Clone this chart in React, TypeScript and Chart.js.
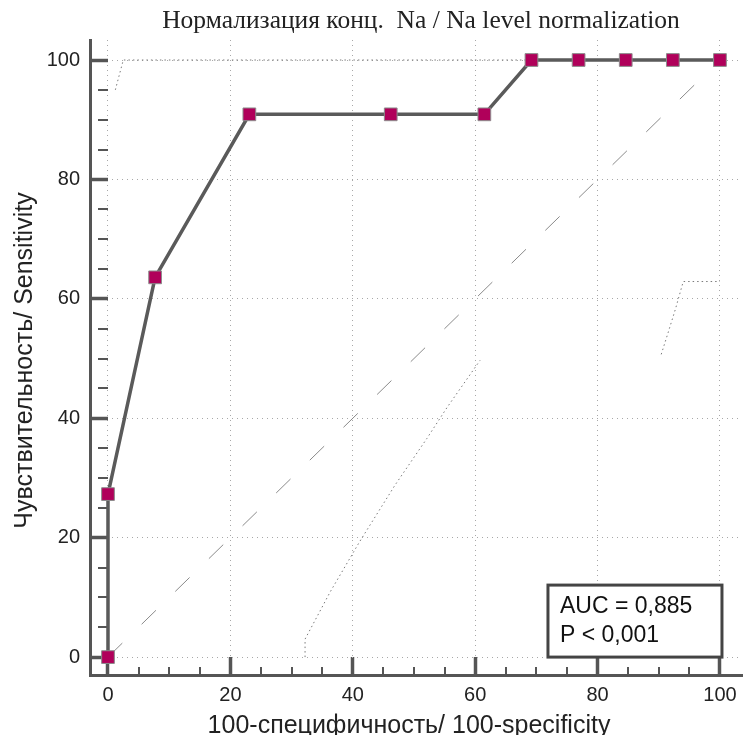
import React, { useEffect, useRef } from 'react';
import { Chart, registerables } from 'chart.js';

Chart.register(...registerables);

const TITLE = 'Нормализация конц.  Na / Na level normalization';
const X_TITLE = '100-специфичность/ 100-specificity';
const Y_TITLE = 'Чувствительность/ Sensitivity';
const AUC_LINES = ['AUC = 0,885', 'P < 0,001'];

const ROC_X = [0, 0, 7.7, 23.1, 46.2, 61.5, 69.2, 76.9, 84.6, 92.3, 100];
const ROC_Y = [0, 27.3, 63.6, 90.9, 90.9, 90.9, 100, 100, 100, 100, 100];

const DIAG_X = [0, 100];
const DIAG_Y = [0, 100];

const UPPER_X = [1.2, 2.5, 100];
const UPPER_Y = [95, 100, 100];

const LOWER_A_X = [32.2, 32.2, 36.3, 41.1, 46.9, 52.1, 55.4, 60.8];
const LOWER_A_Y = [0, 3, 10.9, 19.3, 28.8, 36.6, 41.8, 49.7];

const LOWER_B_X = [90.4, 91.3, 92.7, 94, 100];
const LOWER_B_Y = [50.7, 53.6, 58.2, 62.9, 62.9];

const MAJOR_TICKS = [0, 20, 40, 60, 80, 100];
const MINOR_TICKS = [5, 10, 15, 25, 30, 35, 45, 50, 55, 65, 70, 75, 85, 90, 95];

const X_MIN = -2.94;
const X_MAX = 103.6;
const Y_MIN = -3;
const Y_MAX = 103.35;

const zip = (xs: number[], ys: number[]) => xs.map((x, i) => ({ x, y: ys[i] }));
const isMajor = (ctx: any) => !!(ctx && ctx.tick && MAJOR_TICKS.includes(ctx.tick.value));

function axis(isX: boolean, min: number, max: number, padding: number, size: number) {
  return {
    type: 'linear',
    position: isX ? 'bottom' : 'left',
    min,
    max,
    afterBuildTicks: (scale: any) => {
      scale.ticks = [...MAJOR_TICKS, ...MINOR_TICKS].sort((a, b) => a - b).map((v) => ({ value: v }));
    },
    afterFit: (scale: any) => {
      if (isX) scale.height = size;
      else scale.width = size;
      scale.paddingLeft = 0;
      scale.paddingRight = 0;
      scale.paddingTop = 0;
      scale.paddingBottom = 0;
    },
    ticks: {
      autoSkip: false,
      maxRotation: 0,
      minRotation: 0,
      includeBounds: false,
      padding,
      color: '#222',
      font: { family: '"Liberation Sans", Arial, sans-serif', size: 20 },
      callback: (v: any) => (MAJOR_TICKS.includes(Number(v)) ? String(v) : ''),
    },
    grid: {
      display: true,
      drawOnChartArea: true,
      drawTicks: true,
      color: (ctx: any) => (isMajor(ctx) ? '#a8a8a8' : 'rgba(0,0,0,0)'),
      lineWidth: (ctx: any) => (isMajor(ctx) ? 1 : 0),
      borderDash: [1, 4],
      tickLength: -18,
      tickColor: '#555555',
      tickWidth: (ctx: any) => (isMajor(ctx) ? 3.5 : 2),
      tickBorderDash: (ctx: any) => (isMajor(ctx) ? [] : [10, 200]),
    },
    border: {
      display: true,
      color: '#555555',
      width: 3,
      dash: [1, 4],
    },
  };
}

const decor = {
  id: 'decor',
  afterDatasetsDraw(chart: any) {
    const { ctx, scales } = chart;
    const right = scales.x.getPixelForValue(100) + 2;
    const bottom = scales.y.getPixelForValue(0);
    const w = 174;
    const h = 72;
    ctx.save();
    ctx.fillStyle = '#ffffff';
    ctx.fillRect(right - w, bottom - h, w, h);
    ctx.lineWidth = 3;
    ctx.strokeStyle = '#444444';
    ctx.strokeRect(right - w, bottom - h, w, h);
    ctx.fillStyle = '#111111';
    ctx.font = '23px "Liberation Sans", Arial, sans-serif';
    ctx.textAlign = 'left';
    ctx.textBaseline = 'alphabetic';
    ctx.fillText(AUC_LINES[0], right - w + 12, bottom - 44);
    ctx.fillText(AUC_LINES[1], right - w + 12, bottom - 15);
    ctx.restore();
  },
  afterDraw(chart: any) {
    const { ctx, chartArea } = chart;
    const cx = (chartArea.left + chartArea.right) / 2;
    const cy = (chartArea.top + chartArea.bottom) / 2;
    ctx.save();
    ctx.fillStyle = '#222222';
    ctx.textAlign = 'center';
    ctx.textBaseline = 'alphabetic';
    ctx.font = '25.5px "Liberation Serif", "Times New Roman", serif';
    ctx.fillText(TITLE, cx + 5, 28);
    ctx.font = '25px "Liberation Sans", Arial, sans-serif';
    ctx.fillText(X_TITLE, cx - 7, 733);
    ctx.translate(32, cy + 3);
    ctx.rotate(-Math.PI / 2);
    ctx.fillText(Y_TITLE, 0, 0);
    ctx.restore();
  },
};

export default function App() {
  const ref = useRef<HTMLCanvasElement | null>(null);
  useEffect(() => {
    document.body.style.margin = '0';
    const canvas = ref.current;
    if (!canvas) return;
    const chart = new Chart(canvas, {
      type: 'scatter',
      data: {
        datasets: [
          {
            label: 'ROC',
            data: zip(ROC_X, ROC_Y),
            showLine: true,
            borderColor: '#5a5a5a',
            borderWidth: 3.5,
            pointStyle: 'rect',
            pointRadius: 9,
            pointHoverRadius: 9,
            pointBackgroundColor: '#b0005a',
            pointBorderColor: '#8c8c8c',
            pointBorderWidth: 1,
            clip: false,
          },
          {
            label: 'diag',
            data: zip(DIAG_X, DIAG_Y),
            showLine: true,
            borderColor: '#8a8a8a',
            borderWidth: 1,
            borderDash: [20, 27],
            pointRadius: 0,
          },
          {
            label: 'upper',
            data: zip(UPPER_X, UPPER_Y),
            showLine: true,
            borderColor: '#7a7a7a',
            borderWidth: 1,
            borderDash: [1.5, 3],
            pointRadius: 0,
          },
          {
            label: 'lowerA',
            data: zip(LOWER_A_X, LOWER_A_Y),
            showLine: true,
            borderColor: '#7a7a7a',
            borderWidth: 1,
            borderDash: [1.5, 3],
            pointRadius: 0,
          },
          {
            label: 'lowerB',
            data: zip(LOWER_B_X, LOWER_B_Y),
            showLine: true,
            borderColor: '#7a7a7a',
            borderWidth: 1,
            borderDash: [1.5, 3],
            pointRadius: 0,
          },
        ],
      },
      options: {
        responsive: false,
        maintainAspectRatio: false,
        devicePixelRatio: 1,
        animation: false,
        layout: { autoPadding: false, padding: { top: 40, right: 1, left: 0, bottom: 0 } },
        plugins: {
          legend: { display: false },
          tooltip: { enabled: false },
          title: { display: false },
        },
        scales: {
          x: axis(true, X_MIN, X_MAX, 26, 60) as any,
          y: axis(false, Y_MIN, Y_MAX, 28, 90) as any,
        },
      },
      plugins: [decor],
    } as any);
    return () => chart.destroy();
  }, []);
  return <canvas ref={ref} width={743} height={735} style={{ display: 'block', width: 743, height: 735 }} />;
}
